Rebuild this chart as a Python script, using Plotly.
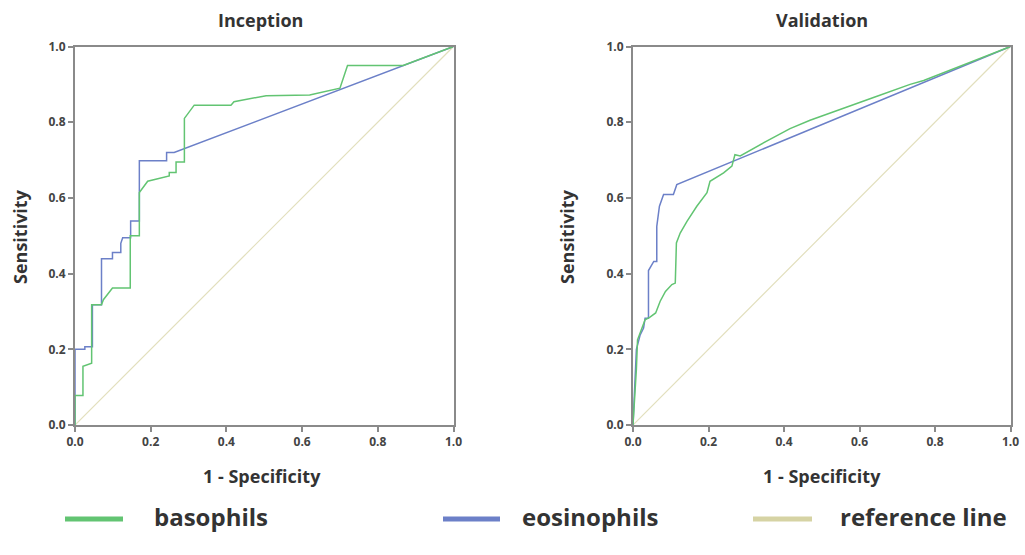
import plotly.graph_objects as go

W, H = 1025, 555

# ---- data ----
inc_baso_x = [0, 0, 0.021, 0.021, 0.044, 0.044, 0.07, 0.075, 0.099, 0.146, 0.146, 0.17, 0.17, 0.192, 0.249,
              0.249, 0.267, 0.267, 0.289, 0.289, 0.315, 0.412, 0.42, 0.505, 0.62, 0.70, 0.72, 0.867, 1]
inc_baso_y = [0, 0.078, 0.078, 0.155, 0.163, 0.318, 0.318, 0.331, 0.362, 0.362, 0.5, 0.5, 0.614, 0.644, 0.658,
              0.667, 0.667, 0.695, 0.695, 0.81, 0.845, 0.845, 0.854, 0.87, 0.872, 0.89, 0.95, 0.95, 1]

inc_eos_x = [0, 0, 0.026, 0.026, 0.046, 0.046, 0.07, 0.07, 0.099, 0.099, 0.121, 0.121, 0.126, 0.147, 0.147,
             0.17, 0.17, 0.242, 0.242, 0.262, 1]
inc_eos_y = [0, 0.2, 0.2, 0.207, 0.207, 0.318, 0.318, 0.439, 0.439, 0.456, 0.456, 0.48, 0.495, 0.495, 0.539,
             0.539, 0.698, 0.698, 0.72, 0.72, 1]

val_baso_x = [0, 0.006, 0.009, 0.012, 0.032, 0.045, 0.06, 0.072, 0.086, 0.103, 0.112, 0.115, 0.125, 0.143,
              0.169, 0.196, 0.204, 0.24, 0.262, 0.27, 0.284, 0.354, 0.416, 0.469, 0.55, 0.65, 0.734, 0.77, 1]
val_baso_y = [0, 0.088, 0.148, 0.225, 0.278, 0.285, 0.296, 0.327, 0.353, 0.371, 0.375, 0.481, 0.507, 0.538,
              0.578, 0.614, 0.644, 0.666, 0.684, 0.714, 0.711, 0.75, 0.783, 0.805, 0.835, 0.87, 0.9, 0.91, 1]

val_eos_x = [0, 0.009, 0.019, 0.028, 0.032, 0.041, 0.041, 0.055, 0.063, 0.063, 0.07, 0.081, 0.107, 0.116, 1]
val_eos_y = [0, 0.2, 0.238, 0.256, 0.282, 0.282, 0.408, 0.432, 0.432, 0.525, 0.578, 0.609, 0.609, 0.635, 1]

ref_x = [0, 1]
ref_y = [0, 1]

panel_titles = ["Inception", "Validation"]
legend_labels = ["basophils", "eosinophils", "reference line"]
tick_vals = [0, 0.2, 0.4, 0.6, 0.8, 1.0]
tick_text = ["0.0", "0.2", "0.4", "0.6", "0.8", "1.0"]

GREEN = "#62c472"
BLUE = "#6c80c8"
REF = "#e2dfbd"
AXIS = "#8a8a8a"
TXT = "#333333"
FONT = "Open Sans"

fig = go.Figure()

panels = [
    ("x", "y", inc_baso_x, inc_baso_y, inc_eos_x, inc_eos_y),
    ("x2", "y2", val_baso_x, val_baso_y, val_eos_x, val_eos_y),
]
for xa, ya, bx, by, ex, ey in panels:
    fig.add_trace(go.Scatter(x=ref_x, y=ref_y, mode="lines", xaxis=xa, yaxis=ya,
                             line=dict(color=REF, width=1.2), showlegend=False, hoverinfo="skip"))
    fig.add_trace(go.Scatter(x=ex, y=ey, mode="lines", xaxis=xa, yaxis=ya,
                             line=dict(color=BLUE, width=1.5), showlegend=False, name=legend_labels[1]))
    fig.add_trace(go.Scatter(x=bx, y=by, mode="lines", xaxis=xa, yaxis=ya,
                             line=dict(color=GREEN, width=1.5), showlegend=False, name=legend_labels[0]))

def px2x(p):
    return p / W

def px2y(p):
    return 1 - p / H

axis_common = dict(range=[0, 1], tickvals=tick_vals, ticktext=tick_text, showgrid=False, zeroline=False,
                   showline=True, mirror=True, linecolor=AXIS, linewidth=2, ticks="outside", ticklen=5,
                   tickwidth=1.5, tickcolor=AXIS, automargin=False,
                   tickfont=dict(family=FONT, size=12, color="#444444", weight="bold"))

ydom = [px2y(425), px2y(46.5)]
fig.update_layout(
    width=W, height=H, margin=dict(l=0, r=0, t=0, b=0, autoexpand=False),
    paper_bgcolor="white", plot_bgcolor="white",
    xaxis=dict(domain=[px2x(75), px2x(453.5)], anchor="y", **axis_common),
    yaxis=dict(domain=ydom, anchor="x", **axis_common),
    xaxis2=dict(domain=[px2x(633), px2x(1010.5)], anchor="y2", **axis_common),
    yaxis2=dict(domain=ydom, anchor="x2", **axis_common),
    showlegend=False,
)

annos = []
title_font = dict(family=FONT, size=18, color=TXT, weight="bold")
# panel titles
for cx, t in [(260, panel_titles[0]), (822, panel_titles[1])]:
    annos.append(dict(x=px2x(cx), y=px2y(20), xref="paper", yref="paper", text=t, showarrow=False,
                      xanchor="center", yanchor="middle", font=title_font))
# x titles
for cx in [262, 822]:
    annos.append(dict(x=px2x(cx), y=px2y(476), xref="paper", yref="paper", text="1 - Specificity",
                      showarrow=False, xanchor="center", yanchor="middle", font=title_font))
# y titles
for cx in [20, 567]:
    annos.append(dict(x=px2x(cx), y=px2y(237), xref="paper", yref="paper", text="Sensitivity",
                      showarrow=False, textangle=-90, xanchor="center", yanchor="middle", font=title_font))

# legend (drawn manually)
shapes = []
leg = [(65, 123, 152, GREEN, legend_labels[0]),
       (443, 500, 520, BLUE, legend_labels[1]),
       (753, 812, 838, "#d6d3a4", legend_labels[2])]
for x0, x1, tx, col, lab in leg:
    shapes.append(dict(type="line", xref="paper", yref="paper", x0=px2x(x0), x1=px2x(x1),
                       y0=px2y(519), y1=px2y(519), line=dict(color=col, width=5)))
    annos.append(dict(x=px2x(tx), y=px2y(516), xref="paper", yref="paper", text=lab, showarrow=False,
                      xanchor="left", yanchor="middle", font=dict(family=FONT, size=24, color=TXT, weight="bold")))

fig.update_layout(annotations=annos, shapes=shapes)
fig.write_html("out.html", config={"displayModeBar": False},
               post_script="document.body.style.margin='0';document.body.style.overflow='hidden';")
